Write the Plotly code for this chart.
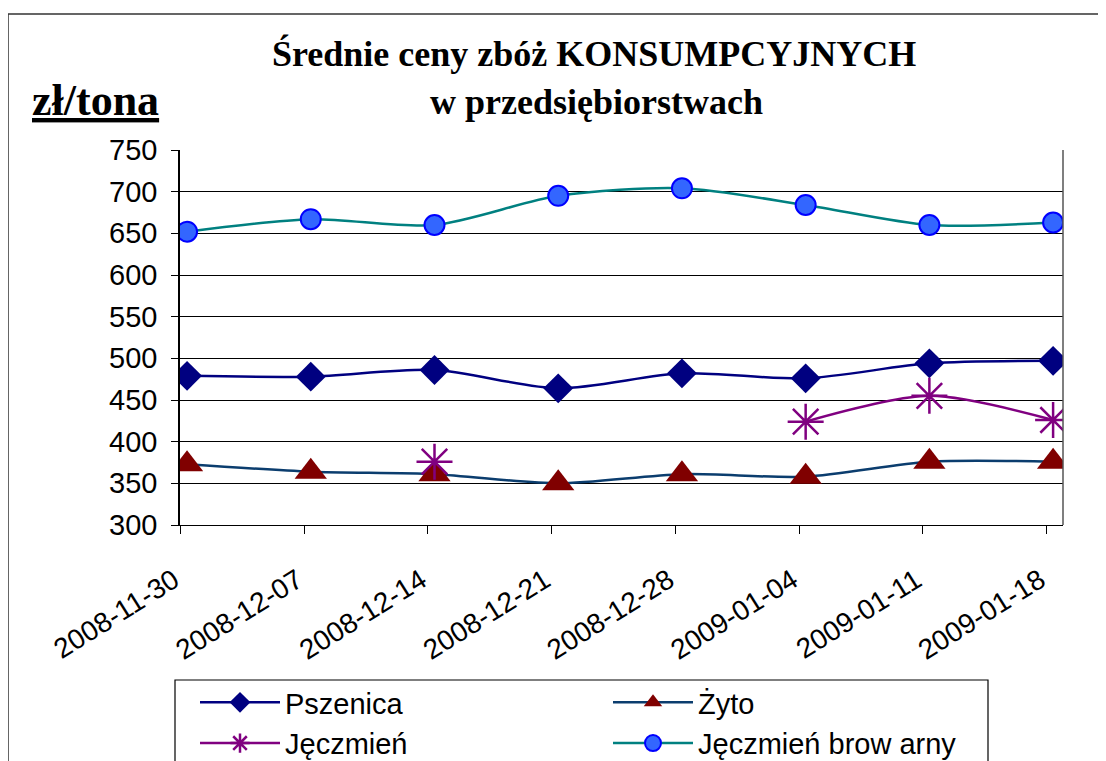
import plotly.graph_objects as go

dates = ["2008-11-30", "2008-12-07", "2008-12-14", "2008-12-21",
         "2008-12-28", "2009-01-04", "2009-01-11", "2009-01-18"]
pszenica = [479, 478, 486, 464, 482, 476, 494, 497]
zyto = [373, 364, 361, 350, 361, 358, 376, 376]
jeczmien = [None, None, 376, None, None, 424, 455, 426]
browarny = [652, 667, 660, 695, 704, 684, 660, 663]
y_ticks = [300, 350, 400, 450, 500, 550, 600, 650, 700, 750]

x = list(range(len(dates)))
SANS = "Liberation Sans, Arial, sans-serif"
SERIF = "Liberation Serif, Times New Roman, serif"

# page body has an 8px margin: work in viewport coords, shift by OFF
OFF = 8
W, H = 1106 - OFF, 761 - OFF
L, R, T, B = 180 - OFF, 1063 - OFF, 150 - OFF, 525 - OFF
PW, PH = R - L, B - T


def px(v):
    return (v - OFF - L) / PW


def py(v):
    return (B - (v - OFF)) / PH


fig = go.Figure()
fig.add_trace(go.Scatter(
    x=x, y=pszenica, name="Pszenica", mode="lines+markers",
    line=dict(color="#000080", width=2.5, shape="spline", smoothing=0.8),
    marker=dict(symbol="diamond", size=23, color="#000080")))
fig.add_trace(go.Scatter(
    x=x, y=zyto, name="Żyto", mode="lines+markers",
    line=dict(color="#0B3D6E", width=2.5, shape="spline", smoothing=0.8),
    marker=dict(symbol="triangle-up", size=28, color="#800000")))
fig.add_trace(go.Scatter(
    x=x, y=jeczmien, name="Jęczmień", mode="lines+markers",
    connectgaps=False,
    line=dict(color="#800080", width=2.5, shape="spline", smoothing=0.8),
    marker=dict(symbol="asterisk-open", size=30,
                line=dict(color="#800080", width=2.5))))
fig.add_trace(go.Scatter(
    x=x, y=browarny, name="Jęczmień brow arny", mode="lines+markers",
    line=dict(color="#008080", width=2.5, shape="spline", smoothing=0.8),
    marker=dict(symbol="circle", size=20, color="#3366FF",
                line=dict(color="#0000FF", width=2))))

NB = "\u00a0"
fig.update_layout(
    width=W, height=H,
    margin=dict(l=L, r=W - R, t=T, b=H - B, autoexpand=False),
    paper_bgcolor="white", plot_bgcolor="white",
    showlegend=True,
    font=dict(family=SANS, color="black", size=28),
    legend=dict(
        orientation="h", x=px(195), xanchor="left", y=py(677), yanchor="top",
        borderwidth=0, bgcolor="rgba(0,0,0,0)",
        entrywidth=318, entrywidthmode="pixels", itemwidth=80,
        font=dict(family=SANS, size=29, color="black"),
        tracegroupgap=0, traceorder="normal"),
    xaxis=dict(
        tickmode="array", tickvals=[i - 0.053 for i in x],
        ticktext=[d + NB for d in dates],
        range=[-0.057, 7.08], tickangle=-32,
        ticks="outside", ticklen=8, tickcolor="black",
        ticklabelstandoff=15,
        showline=True, linecolor="black", linewidth=1,
        showgrid=False, zeroline=False, mirror=False,
        tickfont=dict(family=SANS, size=28, color="black")),
    yaxis=dict(
        range=[300, 750], tickvals=y_ticks,
        ticks="outside", ticklen=7, tickcolor="black",
        ticklabelstandoff=8,
        showline=True, linecolor="black", linewidth=1.5,
        showgrid=True, gridcolor="black", gridwidth=1,
        zeroline=False,
        tickfont=dict(family=SANS, size=29, color="black")),
    shapes=[
        dict(type="line", xref="paper", yref="paper",
             x0=1, x1=1, y0=0, y1=1, line=dict(color="#555555", width=1.5)),
        dict(type="rect", xref="paper", yref="paper",
             x0=px(8), x1=px(1120), y0=py(790), y1=py(14),
             line=dict(color="#333333", width=1.5)),
        dict(type="rect", xref="paper", yref="paper",
             x0=px(175), x1=px(988), y0=py(790), y1=py(680),
             line=dict(color="black", width=1.2)),
    ],
    annotations=[
        dict(text="<b>Średnie ceny zbóż KONSUMPCYJNYCH</b>",
             xref="paper", yref="paper", x=px(594),
             y=py(54), xanchor="center", yanchor="middle",
             showarrow=False, font=dict(family=SERIF, size=36, color="black")),
        dict(text="<b>w przedsiębiorstwach</b>",
             xref="paper", yref="paper", x=px(596),
             y=py(102), xanchor="center", yanchor="middle",
             showarrow=False, font=dict(family=SERIF, size=36, color="black")),
        dict(text="<b><u>zł/tona</u></b>",
             xref="paper", yref="paper", x=px(30),
             y=py(101), xanchor="left", yanchor="middle",
             showarrow=False, font=dict(family=SERIF, size=44, color="black")),
    ],
)

fig.write_html("out.html")
